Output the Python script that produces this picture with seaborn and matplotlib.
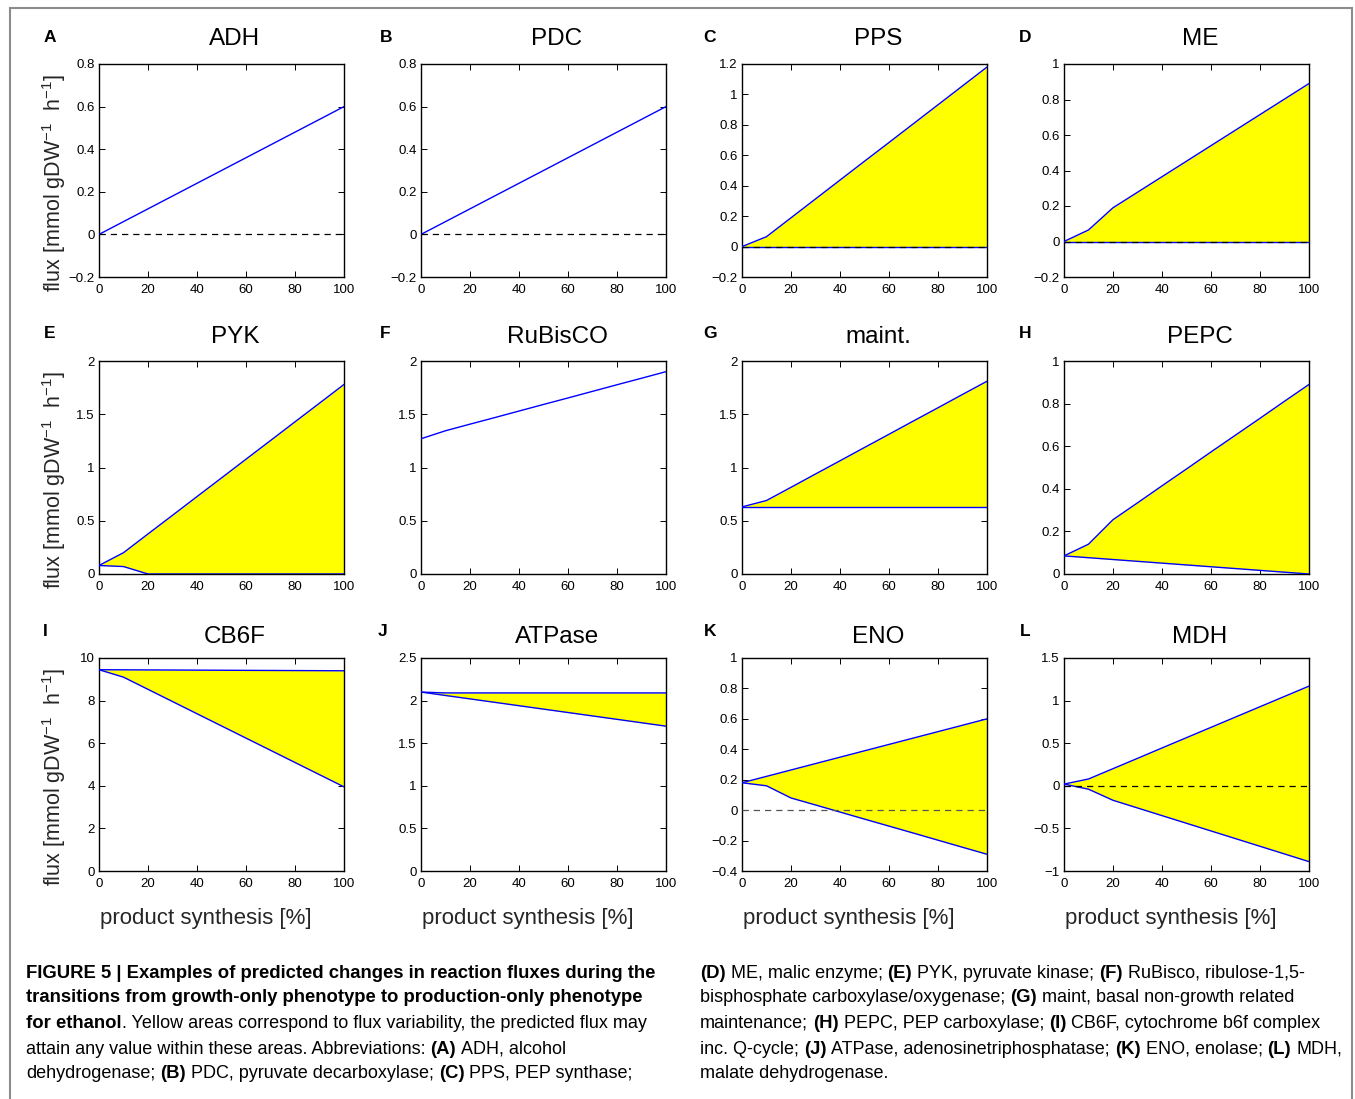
import numpy as np
import matplotlib
matplotlib.use("Agg")
import matplotlib.pyplot as plt
import seaborn as sns
from matplotlib.ticker import FuncFormatter
from matplotlib.patches import Rectangle

# product synthesis [%]
x_pct = [0, 10, 20, 30, 40, 50, 60, 70, 80, 90, 100]

# single-valued fluxes
adh_flux = [0, 0.06, 0.12, 0.18, 0.24, 0.30, 0.36, 0.42, 0.48, 0.54, 0.60]
pdc_flux = [0, 0.06, 0.12, 0.18, 0.24, 0.30, 0.36, 0.42, 0.48, 0.54, 0.60]
rubisco_flux = [1.27, 1.345, 1.407, 1.468, 1.530, 1.592, 1.653, 1.715, 1.777, 1.838, 1.90]

# flux variability ranges (max / min)
pps_max = [0, 0.065, 0.189, 0.313, 0.437, 0.561, 0.684, 0.808, 0.932, 1.056, 1.18]
pps_min = [0, 0, 0, 0, 0, 0, 0, 0, 0, 0, 0]
me_max = [0, 0.065, 0.19, 0.2775, 0.365, 0.4525, 0.54, 0.6275, 0.715, 0.8025, 0.89]
me_min = [0, 0, 0, 0, 0, 0, 0, 0, 0, 0, 0]
pyk_max = [0.08, 0.20, 0.376, 0.551, 0.727, 0.902, 1.078, 1.253, 1.429, 1.604, 1.78]
pyk_min = [0.08, 0.07, 0, 0, 0, 0, 0, 0, 0, 0, 0]
maint_max = [0.63, 0.69, 0.814, 0.939, 1.063, 1.188, 1.312, 1.437, 1.561, 1.686, 1.81]
maint_min = [0.63, 0.63, 0.63, 0.63, 0.63, 0.63, 0.63, 0.63, 0.63, 0.63, 0.63]
pepc_max = [0.085, 0.14, 0.255, 0.334, 0.414, 0.493, 0.573, 0.652, 0.731, 0.811, 0.89]
pepc_min = [0.085, 0.0765, 0.068, 0.0595, 0.051, 0.0425, 0.034, 0.0255, 0.017, 0.0085, 0]
cb6f_max = [9.45, 9.445, 9.44, 9.435, 9.43, 9.425, 9.42, 9.415, 9.41, 9.405, 9.40]
cb6f_min = [9.45, 9.10, 8.528, 7.956, 7.383, 6.811, 6.239, 5.667, 5.094, 4.522, 3.95]
atpase_max = [2.10, 2.09, 2.09, 2.09, 2.09, 2.09, 2.09, 2.09, 2.09, 2.09, 2.09]
atpase_min = [2.10, 2.06, 2.02, 1.98, 1.94, 1.90, 1.86, 1.82, 1.78, 1.74, 1.70]
eno_max = [0.18, 0.222, 0.264, 0.306, 0.348, 0.39, 0.432, 0.474, 0.516, 0.558, 0.60]
eno_min = [0.18, 0.16, 0.08, 0.034, -0.0125, -0.059, -0.105, -0.151, -0.1975, -0.244, -0.29]
mdh_max = [0.02, 0.08, 0.201, 0.322, 0.444, 0.565, 0.686, 0.807, 0.928, 1.049, 1.17]
mdh_min = [0.02, -0.04, -0.17, -0.26, -0.35, -0.44, -0.53, -0.62, -0.71, -0.80, -0.89]

panel_letters = list("ABCDEFGHIJKL")
panel_titles = ["ADH", "PDC", "PPS", "ME", "PYK", "RuBisCO", "maint.", "PEPC",
                "CB6F", "ATPase", "ENO", "MDH"]

caption_left = [
    "**FIGURE 5 | Examples of predicted changes in reaction fluxes during the**",
    "**transitions from growth-only phenotype to production-only phenotype**",
    "**for ethanol**. Yellow areas correspond to flux variability, the predicted flux may",
    "attain any value within these areas. Abbreviations: **(A)** ADH, alcohol",
    "dehydrogenase; **(B)** PDC, pyruvate decarboxylase; **(C)** PPS, PEP synthase;",
]
caption_right = [
    "**(D)** ME, malic enzyme; **(E)** PYK, pyruvate kinase; **(F)** RuBisco, ribulose-1,5-",
    "bisphosphate carboxylase/oxygenase; **(G)** maint, basal non-growth related",
    "maintenance; **(H)** PEPC, PEP carboxylase; **(I)** CB6F, cytochrome b6f complex",
    "inc. Q-cycle; **(J)** ATPase, adenosinetriphosphatase; **(K)** ENO, enolase; **(L)** MDH,",
    "malate dehydrogenase.",
]

sns.set_style("ticks", {"xtick.direction": "in", "ytick.direction": "in",
                        "axes.edgecolor": "black", "xtick.color": "black",
                        "ytick.color": "black", "text.color": "black"})
plt.rcParams["font.family"] = ["Liberation Sans", "DejaVu Sans"]
plt.rcParams["mathtext.fontset"] = "custom"
plt.rcParams["mathtext.rm"] = "Liberation Sans"
plt.rcParams["mathtext.it"] = "Liberation Sans:italic"
plt.rcParams["axes.unicode_minus"] = True

W, H = 1355, 1099
fig = plt.figure(figsize=(W / 100, H / 100), dpi=100)

col_left = [99, 421, 742, 1064]
row_top = [64, 361, 658]
ax_w, ax_h = 245, 213

# (values or (max, min)), ylim, ytick step, zero-line colour
panels = [
    (adh_flux, (-0.2, 0.8), 0.2, "black"),
    (pdc_flux, (-0.2, 0.8), 0.2, "black"),
    ((pps_max, pps_min), (-0.2, 1.2), 0.2, "black"),
    ((me_max, me_min), (-0.2, 1.0), 0.2, "black"),
    ((pyk_max, pyk_min), (0, 2), 0.5, None),
    (rubisco_flux, (0, 2), 0.5, None),
    ((maint_max, maint_min), (0, 2), 0.5, None),
    ((pepc_max, pepc_min), (0, 1), 0.2, None),
    ((cb6f_max, cb6f_min), (0, 10), 2, None),
    ((atpase_max, atpase_min), (0, 2.5), 0.5, None),
    ((eno_max, eno_min), (-0.4, 1.0), 0.2, "#555555"),
    ((mdh_max, mdh_min), (-1, 1.5), 0.5, "black"),
]
title_pads = [14, 13, 11]

fmt = FuncFormatter(lambda v, p: f"{v:g}".replace("-", "\u2212"))

for i, (vals, ylim, step, zcol) in enumerate(panels):
    r, c = divmod(i, 4)
    left = col_left[c] / W
    bottom = 1 - (row_top[r] + ax_h) / H
    ax = fig.add_axes([left, bottom, ax_w / W, ax_h / H])

    if isinstance(vals, tuple):
        vmax, vmin = vals
        ax.fill_between(x_pct, vmin, vmax, color="#ffff00", lw=0, zorder=1)
        sns.lineplot(x=x_pct, y=vmax, ax=ax, color="#0000ff", linewidth=1, zorder=3)
        sns.lineplot(x=x_pct, y=vmin, ax=ax, color="#0000ff", linewidth=1, zorder=3)
    else:
        sns.lineplot(x=x_pct, y=vals, ax=ax, color="#0000ff", linewidth=1, zorder=3)

    if zcol is not None:
        ax.axhline(0, color=zcol, lw=0.9, ls=(0, (5, 4)), zorder=4)

    ax.set_xlim(0, 100)
    ax.set_ylim(*ylim)
    ax.set_xticks(np.arange(0, 101, 20))
    ax.set_yticks(np.round(np.arange(ylim[0], ylim[1] + step / 2, step), 2))
    ax.yaxis.set_major_formatter(fmt)
    ax.tick_params(direction="in", top=True, right=True, length=4, width=0.7,
                   labelsize=9.5)
    ax.tick_params(axis="x", pad=5)
    ax.tick_params(axis="y", pad=3)
    for sp in ax.spines.values():
        sp.set_visible(True)
        sp.set_linewidth(1.0)
        sp.set_color("black")
    ax.set_xlabel("")
    ax.set_ylabel("")
    ax.set_title(panel_titles[i], fontsize=17.5, pad=title_pads[r], x=0.555)

    if c == 0:
        ax.set_ylabel(r"flux [mmol gDW$^{\mathregular{-1}}$  h$^{\mathregular{-1}}$]",
                      fontsize=15.5)
        ax.yaxis.set_label_coords(-0.128, 0.44)
    if r == 2:
        ax.set_xlabel("product synthesis [%]", fontsize=16)
        ax.xaxis.set_label_coords(0.435, -0.172)

letter_pos = [(50, 37), (386, 37), (710, 37), (1025, 37),
              (50, 333), (385, 333), (710, 333), (1025, 333),
              (45, 632), (383, 632), (710, 632), (1025, 632)]
for letter, (lx, ly) in zip(panel_letters, letter_pos):
    fig.text(lx / W, 1 - ly / H, letter, fontsize=12.5, fontweight="bold",
             ha="center", va="center")

# grey frame around the figure
fig.add_artist(Rectangle((10 / W, -0.05), 1342 / W, 1.05 - 8 / H,
                         transform=fig.transFigure, fill=False,
                         edgecolor="#8c8c8c", lw=1.5))

# caption with mixed bold / regular runs
cap_font = ["Liberation Sans Narrow", "Liberation Sans", "DejaVu Sans"]
cap_size = {"normal": 12.95, "bold": 13.35}
renderer = fig.canvas.get_renderer()


def text_width(s, weight):
    t = fig.text(0, 0, s, fontsize=cap_size[weight], fontweight=weight, family=cap_font)
    w = t.get_window_extent(renderer).width
    t.remove()
    return w


space_w = {wt: text_width("a a", wt) - text_width("aa", wt) for wt in ("normal", "bold")}


def rich_line(x_px, y_px, s):
    x = x_px
    for k, part in enumerate(s.split("**")):
        if not part:
            continue
        weight = "bold" if k % 2 else "normal"
        lead = len(part) - len(part.lstrip(" "))
        trail = len(part) - len(part.rstrip(" "))
        x += lead * space_w[weight]
        body = part.strip(" ")
        t = fig.text(x / W, 1 - y_px / H, body, fontsize=cap_size[weight],
                     fontweight=weight, family=cap_font, ha="left", va="center")
        x += t.get_window_extent(renderer).width + trail * space_w[weight]


line_y = [973, 998, 1023, 1049, 1074]
for y, s in zip(line_y, caption_left):
    rich_line(26, y, s)
for y, s in zip(line_y, caption_right):
    rich_line(700, y, s)

fig.savefig("out.png", dpi=100)
